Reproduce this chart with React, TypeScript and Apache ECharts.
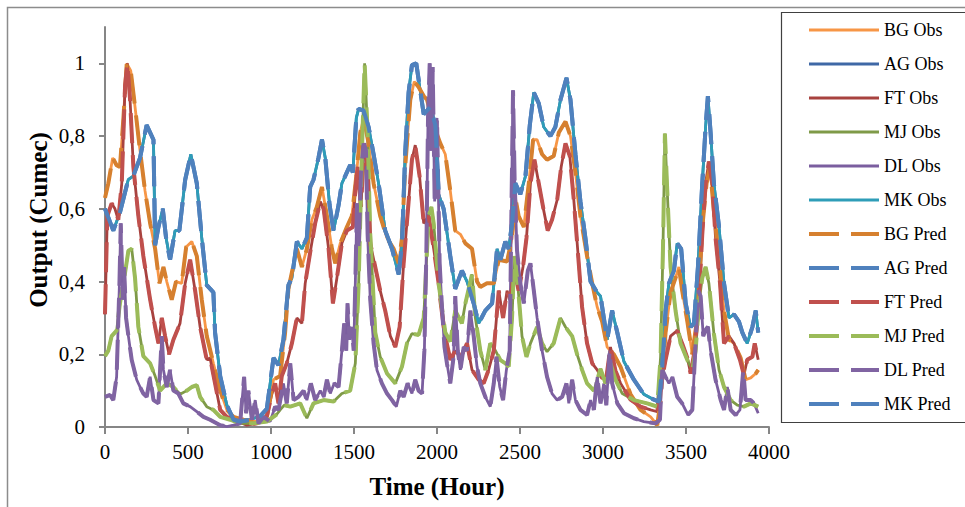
import React, { useEffect, useRef } from "react";
import * as echarts from "echarts";

// Values: [hour, output]
const agMkValues: [number, number][] = [
  [0,0.60],[50,0.54],[90,0.59],[140,0.68],[170,0.69],[211,0.74],[251,0.83],[292,0.79],[302,0.50],[322,0.55],[348,0.60],[368,0.52],[392,0.46],[422,0.54],[448,0.54],[483,0.68],[517,0.75],[553,0.67],[583,0.52],[613,0.39],[653,0.37],[663,0.26],[694,0.14],[734,0.06],[774,0.02],[814,0.015],[874,0.02],[935,0.03],[975,0.05],[1015,0.19],[1045,0.17],[1075,0.24],[1105,0.39],[1126,0.41],[1156,0.51],[1186,0.49],[1216,0.52],[1236,0.66],[1256,0.68],[1286,0.74],[1307,0.79],[1327,0.74],[1353,0.61],[1377,0.54],[1407,0.61],[1427,0.67],[1457,0.70],[1477,0.72],[1493,0.70],[1514,0.85],[1528,0.875],[1558,0.87],[1588,0.825],[1618,0.75],[1648,0.67],[1688,0.54],[1729,0.49],[1769,0.42],[1789,0.50],[1809,0.76],[1829,0.92],[1849,0.995],[1875,1.0],[1899,0.925],[1920,0.86],[1960,0.88],[1990,0.83],[2010,0.64],[2040,0.60],[2080,0.47],[2110,0.38],[2150,0.43],[2181,0.40],[2221,0.34],[2251,0.285],[2291,0.32],[2332,0.34],[2362,0.49],[2382,0.46],[2412,0.51],[2432,0.49],[2452,0.56],[2472,0.67],[2502,0.64],[2533,0.69],[2559,0.83],[2583,0.92],[2613,0.89],[2643,0.825],[2683,0.80],[2713,0.825],[2744,0.90],[2780,0.96],[2804,0.90],[2834,0.75],[2864,0.62],[2894,0.52],[2925,0.40],[2965,0.37],[2985,0.36],[3025,0.24],[3055,0.32],[3086,0.26],[3126,0.18],[3186,0.13],[3246,0.09],[3307,0.075],[3337,0.07],[3357,0.165],[3377,0.32],[3397,0.395],[3427,0.43],[3447,0.505],[3471,0.49],[3498,0.34],[3528,0.275],[3548,0.285],[3572,0.44],[3598,0.67],[3618,0.825],[3632,0.91],[3648,0.81],[3668,0.67],[3699,0.55],[3729,0.395],[3759,0.30],[3789,0.31],[3819,0.29],[3839,0.26],[3869,0.23],[3900,0.275],[3920,0.32],[3935,0.26]
];

const bgValues: [number, number][] = [
  [0,0.63],[20,0.67],[46,0.74],[70,0.72],[90,0.715],[111,0.85],[131,1.0],[155,0.98],[181,0.88],[211,0.76],[241,0.65],[272,0.56],[302,0.49],[328,0.395],[352,0.44],[372,0.40],[402,0.35],[428,0.40],[462,0.395],[489,0.495],[523,0.51],[553,0.47],[583,0.35],[613,0.25],[653,0.175],[694,0.10],[734,0.047],[774,0.028],[834,0.02],[915,0.015],[975,0.028],[1015,0.13],[1055,0.14],[1085,0.26],[1105,0.38],[1156,0.49],[1186,0.44],[1216,0.49],[1246,0.57],[1276,0.605],[1307,0.66],[1337,0.58],[1367,0.49],[1387,0.45],[1417,0.505],[1457,0.55],[1487,0.58],[1514,0.69],[1538,0.81],[1558,0.85],[1588,0.78],[1618,0.67],[1658,0.58],[1698,0.52],[1739,0.49],[1769,0.45],[1789,0.52],[1809,0.72],[1839,0.90],[1863,0.95],[1889,0.935],[1920,0.91],[1940,0.90],[1980,0.83],[2020,0.78],[2050,0.75],[2080,0.65],[2110,0.54],[2141,0.53],[2171,0.505],[2211,0.49],[2241,0.40],[2261,0.385],[2301,0.395],[2342,0.395],[2372,0.46],[2422,0.455],[2452,0.52],[2472,0.63],[2492,0.58],[2523,0.55],[2553,0.67],[2579,0.79],[2603,0.79],[2633,0.75],[2663,0.735],[2703,0.745],[2734,0.81],[2774,0.84],[2804,0.80],[2834,0.70],[2864,0.58],[2904,0.47],[2935,0.395],[2965,0.33],[2995,0.29],[3025,0.22],[3065,0.20],[3106,0.165],[3166,0.09],[3226,0.047],[3287,0.028],[3327,0.005],[3347,0.075],[3377,0.26],[3407,0.37],[3437,0.41],[3457,0.44],[3477,0.375],[3508,0.29],[3538,0.20],[3568,0.30],[3598,0.55],[3624,0.67],[3644,0.715],[3668,0.595],[3699,0.46],[3729,0.32],[3759,0.24],[3789,0.23],[3829,0.19],[3859,0.13],[3890,0.135],[3920,0.147],[3935,0.157]
];

const ftValues: [number, number][] = [
  [0,0.31],[14,0.58],[40,0.615],[60,0.60],[80,0.57],[101,0.67],[121,0.94],[135,1.0],[151,0.90],[171,0.715],[201,0.58],[231,0.47],[272,0.35],[302,0.275],[322,0.23],[342,0.30],[362,0.25],[386,0.20],[412,0.24],[452,0.285],[483,0.395],[513,0.46],[543,0.375],[573,0.275],[613,0.185],[633,0.19],[663,0.12],[694,0.047],[734,0.028],[774,0.02],[854,0.005],[915,0.01],[975,0.03],[1005,0.09],[1025,0.12],[1045,0.065],[1065,0.14],[1095,0.175],[1126,0.23],[1156,0.30],[1186,0.285],[1206,0.395],[1236,0.48],[1266,0.56],[1297,0.62],[1317,0.60],[1347,0.49],[1373,0.34],[1397,0.41],[1427,0.505],[1457,0.54],[1493,0.55],[1508,0.65],[1522,0.715],[1542,0.605],[1562,0.78],[1582,0.715],[1598,0.505],[1628,0.44],[1658,0.375],[1688,0.32],[1719,0.25],[1749,0.22],[1775,0.275],[1799,0.45],[1829,0.62],[1849,0.735],[1869,0.775],[1895,0.69],[1920,0.56],[1950,0.58],[1980,0.49],[2010,0.395],[2020,0.35],[2045,0.26],[2080,0.185],[2110,0.21],[2141,0.19],[2181,0.23],[2211,0.157],[2251,0.13],[2281,0.12],[2311,0.157],[2342,0.21],[2372,0.375],[2398,0.30],[2422,0.375],[2442,0.35],[2466,0.43],[2492,0.375],[2518,0.44],[2539,0.52],[2563,0.67],[2587,0.735],[2613,0.67],[2643,0.595],[2667,0.54],[2693,0.57],[2724,0.625],[2748,0.715],[2774,0.78],[2800,0.745],[2824,0.625],[2848,0.485],[2874,0.33],[2904,0.23],[2935,0.175],[2965,0.157],[2995,0.135],[3020,0.135],[3045,0.22],[3075,0.155],[3106,0.12],[3166,0.075],[3226,0.056],[3287,0.047],[3327,0.042],[3351,0.12],[3377,0.185],[3407,0.25],[3447,0.265],[3477,0.23],[3508,0.19],[3528,0.147],[3552,0.21],[3578,0.35],[3598,0.53],[3618,0.67],[3638,0.73],[3658,0.67],[3678,0.52],[3705,0.395],[3729,0.23],[3759,0.25],[3789,0.23],[3825,0.185],[3849,0.143],[3869,0.185],[3900,0.193],[3914,0.23],[3935,0.185]
];

const mjValues: [number, number][] = [
  [0,0.195],[20,0.21],[40,0.25],[70,0.265],[90,0.34],[111,0.395],[141,0.485],[161,0.49],[181,0.41],[201,0.275],[231,0.195],[272,0.175],[302,0.14],[332,0.10],[372,0.12],[412,0.11],[452,0.09],[493,0.10],[523,0.11],[553,0.115],[573,0.083],[613,0.056],[653,0.047],[694,0.028],[754,0.02],[814,0.01],[895,0.01],[975,0.015],[1035,0.035],[1055,0.047],[1080,0.06],[1116,0.056],[1176,0.065],[1216,0.024],[1256,0.065],[1317,0.074],[1377,0.07],[1427,0.092],[1477,0.10],[1508,0.175],[1528,0.395],[1548,0.76],[1564,1.0],[1582,0.81],[1598,0.53],[1628,0.26],[1658,0.193],[1699,0.147],[1749,0.12],[1789,0.166],[1819,0.23],[1849,0.257],[1889,0.253],[1920,0.30],[1950,0.58],[1966,0.605],[1980,0.56],[2010,0.395],[2020,0.36],[2050,0.26],[2080,0.235],[2110,0.32],[2150,0.285],[2171,0.34],[2211,0.42],[2231,0.30],[2261,0.21],[2291,0.157],[2321,0.23],[2352,0.21],[2382,0.184],[2412,0.175],[2432,0.166],[2452,0.30],[2466,0.47],[2486,0.395],[2512,0.25],[2539,0.193],[2563,0.23],[2603,0.275],[2633,0.23],[2663,0.207],[2703,0.23],[2744,0.30],[2774,0.275],[2814,0.25],[2844,0.20],[2874,0.157],[2904,0.12],[2945,0.10],[2985,0.16],[3015,0.12],[3045,0.175],[3075,0.13],[3116,0.092],[3186,0.074],[3266,0.065],[3327,0.056],[3347,0.193],[3361,0.486],[3373,0.807],[3387,0.65],[3407,0.44],[3437,0.32],[3467,0.23],[3508,0.184],[3538,0.157],[3558,0.21],[3578,0.34],[3598,0.41],[3618,0.44],[3638,0.395],[3668,0.257],[3699,0.157],[3729,0.11],[3769,0.074],[3809,0.06],[3849,0.056],[3890,0.065],[3935,0.056]
];

const dlValues: [number, number][] = [
  [0,0.083],[30,0.088],[50,0.074],[70,0.138],[87,0.395],[95,0.56],[107,0.35],[115,0.44],[127,0.30],[141,0.25],[161,0.184],[191,0.13],[211,0.11],[231,0.092],[251,0.083],[272,0.138],[292,0.074],[322,0.065],[342,0.25],[352,0.157],[372,0.11],[392,0.157],[412,0.10],[442,0.092],[472,0.065],[513,0.056],[553,0.042],[593,0.028],[633,0.02],[694,0.005],[734,0.001],[774,0.005],[814,0.01],[838,0.138],[850,0.038],[864,0.10],[885,0.02],[905,0.074],[925,0.01],[955,0.028],[995,0.015],[1025,0.056],[1045,0.047],[1075,0.12],[1095,0.065],[1116,0.175],[1136,0.074],[1166,0.083],[1196,0.10],[1216,0.074],[1240,0.12],[1266,0.074],[1297,0.10],[1317,0.083],[1337,0.13],[1357,0.092],[1381,0.12],[1407,0.11],[1427,0.21],[1441,0.285],[1453,0.21],[1461,0.34],[1473,0.24],[1487,0.275],[1498,0.21],[1508,0.395],[1518,0.615],[1528,0.486],[1542,0.70],[1558,0.78],[1572,0.76],[1582,0.53],[1598,0.35],[1618,0.23],[1638,0.157],[1668,0.12],[1699,0.092],[1729,0.074],[1755,0.056],[1779,0.10],[1799,0.083],[1823,0.12],[1849,0.092],[1869,0.13],[1889,0.10],[1910,0.092],[1924,0.21],[1936,0.486],[1946,0.85],[1956,1.0],[1964,0.76],[1974,0.99],[1986,0.62],[2000,0.85],[2016,0.45],[2030,0.33],[2045,0.22],[2060,0.175],[2080,0.12],[2100,0.193],[2110,0.36],[2125,0.21],[2141,0.157],[2161,0.22],[2181,0.21],[2201,0.32],[2221,0.25],[2241,0.166],[2261,0.12],[2291,0.083],[2321,0.056],[2342,0.12],[2358,0.193],[2378,0.11],[2398,0.074],[2418,0.157],[2438,0.21],[2448,0.58],[2458,0.926],[2468,0.67],[2482,0.486],[2502,0.395],[2523,0.34],[2547,0.43],[2563,0.45],[2583,0.376],[2603,0.30],[2633,0.21],[2663,0.138],[2693,0.092],[2724,0.074],[2754,0.083],[2780,0.12],[2794,0.065],[2814,0.13],[2834,0.074],[2864,0.047],[2904,0.033],[2925,0.074],[2945,0.047],[2965,0.138],[2985,0.065],[3005,0.12],[3020,0.06],[3040,0.21],[3055,0.12],[3086,0.065],[3126,0.038],[3186,0.024],[3246,0.015],[3317,0.01],[3343,0.02],[3357,0.157],[3377,0.138],[3397,0.12],[3417,0.138],[3447,0.083],[3477,0.065],[3512,0.033],[3538,0.047],[3558,0.23],[3572,0.376],[3588,0.36],[3604,0.25],[3618,0.267],[3632,0.276],[3648,0.21],[3678,0.13],[3709,0.074],[3729,0.047],[3749,0.11],[3769,0.047],[3799,0.033],[3825,0.047],[3845,0.157],[3859,0.074],[3890,0.074],[3910,0.065],[3935,0.038]
];

const seriesNames = ["BG Obs", "AG Obs", "FT Obs", "MJ Obs", "DL Obs", "MK Obs", "BG Pred", "AG Pred", "FT Pred", "MJ Pred", "DL Pred", "MK Pred"];
const seriesColors = ["#F79646", "#3F68A6", "#A8423F", "#7F9A48", "#7B5E9F", "#2E9DB8", "#D6802F", "#4F81BD", "#C0504D", "#9BBB59", "#8064A2", "#4F81BD"];
const seriesData = [bgValues, agMkValues, ftValues, mjValues, dlValues, agMkValues, bgValues, agMkValues, ftValues, mjValues, dlValues, agMkValues];

const xTicks = [0, 500, 1000, 1500, 2000, 2500, 3000, 3500, 4000];
const yTicks = [0, 0.2, 0.4, 0.6, 0.8, 1];

const FONT = '"Liberation Serif", "Times New Roman", serif';

export default function App() {
  const ref = useRef<HTMLDivElement>(null);
  useEffect(() => {
    if (!ref.current) return;
    const chart = echarts.init(ref.current, null, { renderer: "svg" });
    const series = seriesNames.map((name, i) => {
      const isPred = i >= 6;
      return {
        name,
        type: "line",
        data: seriesData[i],
        symbol: "none",
        showSymbol: false,
        lineStyle: {
          color: seriesColors[i],
          width: isPred ? 4 : 2.8,
          type: isPred ? [30, 12] : "solid",
          cap: "butt",
        },
        itemStyle: { color: seriesColors[i] },
        z: 2 + i,
      };
    });
    chart.setOption({
      animation: false,
      backgroundColor: "#ffffff",
      grid: { left: 105, right: 196, top: 27, bottom: 80, containLabel: false },
      xAxis: {
        type: "value",
        min: 0,
        max: 4000,
        interval: 500,
        name: "Time (Hour)",
        nameLocation: "middle",
        nameGap: 47,
        nameTextStyle: { fontFamily: FONT, fontSize: 25, fontWeight: "bold", color: "#000" },
        axisLine: { show: true, lineStyle: { color: "#868686", width: 2 } },
        axisTick: { show: true, length: 7, lineStyle: { color: "#868686", width: 2 } },
        axisLabel: {
          fontFamily: FONT,
          fontSize: 21,
          color: "#000",
          margin: 14,
          customValues: xTicks,
          formatter: (v: number) => String(v),
        },
        splitLine: { show: false },
      },
      yAxis: {
        type: "value",
        min: 0,
        max: 1.1,
        interval: 0.2,
        axisLine: { show: true, lineStyle: { color: "#868686", width: 2 } },
        axisTick: { show: true, length: 6, lineStyle: { color: "#868686", width: 2 }, customValues: yTicks },
        axisLabel: {
          fontFamily: FONT,
          fontSize: 21,
          color: "#000",
          margin: 20,
          customValues: yTicks,
          formatter: (v: number) => String(Math.round(v * 10) / 10).replace(".", ","),
        },
        splitLine: { show: false },
      },
      legend: {
        orient: "vertical",
        left: 807,
        top: 21,
        padding: 0,
        itemWidth: 70,
        itemHeight: 14,
        itemGap: 16,
        data: seriesNames,
        textStyle: { fontFamily: FONT, fontSize: 18, color: "#000" },
        lineStyle: { width: "inherit" },
        itemStyle: { opacity: 0, borderWidth: 0 },
        selectedMode: false,
      },
      graphic: [
        {
          type: "rect",
          shape: { x: 7.5, y: 7.5, width: 1000, height: 600 },
          style: { fill: "none", stroke: "#8c8c8c", lineWidth: 1.5 },
          silent: true,
          z: 0,
        },
        {
          type: "rect",
          shape: { x: 781.5, y: 12.5, width: 300, height: 410 },
          style: { fill: "none", stroke: "#404040", lineWidth: 1.2 },
          silent: true,
          z: 0,
        },
        {
          type: "text",
          x: 38,
          y: 220,
          rotation: Math.PI / 2,
          style: {
            text: "Output (Cumec)",
            font: `bold 25px ${FONT}`,
            fill: "#000",
            textAlign: "center",
            textVerticalAlign: "middle",
          },
          silent: true,
        },
      ],
      series,
    });
    return () => chart.dispose();
  }, []);
  return (
    <div
      ref={ref}
      style={{ position: "absolute", left: 0, top: 0, width: 965, height: 507, background: "#fff" }}
    />
  );
}
